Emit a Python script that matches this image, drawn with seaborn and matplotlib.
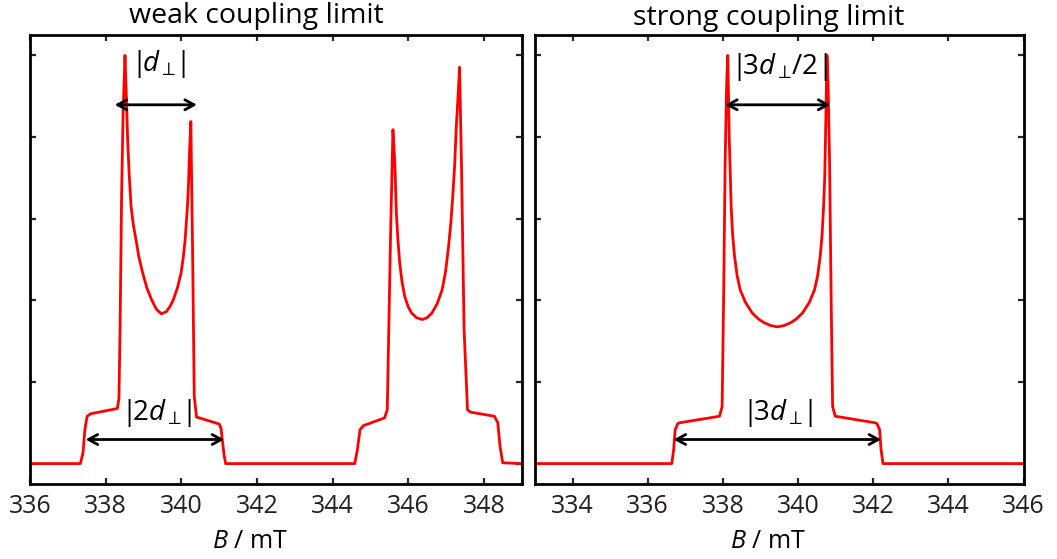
import numpy as np
import pandas as pd
import matplotlib
matplotlib.use("Agg")
import matplotlib.pyplot as plt
import seaborn as sns

# ---- data ----
weak_B = [336.0, 337.33, 337.40, 337.45, 337.51, 337.60, 338.31, 338.35, 338.38, 338.42,
          338.46, 338.51, 338.54, 338.58, 338.62, 338.67, 338.73, 338.80, 338.88, 338.98,
          339.09, 339.21, 339.34, 339.47, 339.60, 339.70, 339.79, 339.90, 339.99, 340.05,
          340.10, 340.13, 340.16, 340.19, 340.21, 340.25, 340.30, 340.34, 340.40, 341.00,
          341.05, 341.08, 341.13, 341.17,
          344.58, 344.65, 344.72, 344.81, 345.37, 345.44, 345.48, 345.53, 345.59, 345.62,
          345.64, 345.68, 345.72, 345.77, 345.83, 345.90, 345.99, 346.08, 346.22, 346.37,
          346.50, 346.62, 346.76, 346.89, 346.98, 347.06, 347.12, 347.17, 347.22, 347.26,
          347.31, 347.35, 347.40, 347.47, 347.56, 347.64, 348.27, 348.36, 348.42, 348.49,
          349.0]
weak_I = [0.0, 0.0, 0.026, 0.083, 0.116, 0.122, 0.135, 0.16, 0.33, 0.655,
          0.86, 1.0, 0.916, 0.794, 0.71, 0.630, 0.585, 0.549, 0.505, 0.466,
          0.430, 0.402, 0.378, 0.367, 0.372, 0.385, 0.402, 0.432, 0.466, 0.505,
          0.549, 0.59, 0.630, 0.69, 0.753, 0.838, 0.49, 0.165, 0.114, 0.097,
          0.085, 0.059, 0.02, 0.0,
          0.0, 0.034, 0.083, 0.093, 0.112, 0.132, 0.328, 0.573, 0.818, 0.77,
          0.736, 0.614, 0.55, 0.49, 0.445, 0.41, 0.385, 0.369, 0.357, 0.353,
          0.358, 0.369, 0.392, 0.426, 0.47, 0.532, 0.59, 0.655, 0.73, 0.818,
          0.90, 0.971, 0.736, 0.328, 0.132, 0.126, 0.116, 0.10, 0.042, 0.002,
          0.0]

strong_B = [333.0, 336.64, 336.69, 336.73, 336.80, 336.85, 337.91, 337.98, 338.02, 338.06,
            338.10, 338.13, 338.15, 338.17, 338.20, 338.22, 338.26, 338.31, 338.38, 338.46,
            338.60, 338.78, 338.95, 339.10, 339.28, 339.45, 339.62, 339.80, 339.95, 340.12,
            340.30, 340.44, 340.52, 340.59, 340.64, 340.68, 340.71, 340.73, 340.75, 340.77,
            340.80, 340.84, 340.88, 340.92, 340.99, 342.05, 342.10, 342.17, 342.21, 342.26,
            346.0]
strong_I = [0.0, 0.0, 0.034, 0.083, 0.098, 0.10, 0.116, 0.14, 0.41, 0.736,
            0.93, 1.0, 0.90, 0.794, 0.70, 0.63, 0.56, 0.508, 0.46, 0.426,
            0.395, 0.369, 0.354, 0.345, 0.338, 0.335, 0.338, 0.345, 0.354, 0.369,
            0.395, 0.426, 0.46, 0.508, 0.56, 0.63, 0.70, 0.794, 0.90, 1.0,
            0.93, 0.736, 0.41, 0.14, 0.116, 0.10, 0.098, 0.083, 0.034, 0.0,
            0.0]

panel_titles = ["weak coupling limit", "strong coupling limit"]
weak_xticks = [336, 338, 340, 342, 344, 346, 348]
strong_xticks = [334, 336, 338, 340, 342, 344, 346]
yticks = [0.0, 0.2, 0.4, 0.6, 0.8, 1.0]

# annotations: (label, x_start, x_end, arrow_y, label_x, label_y)
weak_annots = [(r"$|\!d_{\perp}\!|$", 338.24, 340.41, 0.879, 339.39, 0.978),
               (r"$|\!2d_{\perp}\!|$", 337.47, 341.13, 0.059, 339.34, 0.124)]
strong_annots = [(r"$|\!3d_{\perp}\!/2|$", 338.06, 340.86, 0.879, 339.49, 0.972),
                 (r"$|\!3d_{\perp}\!|$", 336.69, 342.21, 0.059, 339.46, 0.124)]

# ---- styling ----
sns.set_theme(style="white")
plt.rcParams["font.family"] = ["Open Sans", "DejaVu Sans"]
plt.rcParams["mathtext.fontset"] = "custom"
plt.rcParams["mathtext.rm"] = "Open Sans"
plt.rcParams["mathtext.it"] = "Open Sans:italic"
plt.rcParams["mathtext.bf"] = "Open Sans:bold"

W, H = 1057, 559
fig = plt.figure(figsize=(W / 100, H / 100), dpi=100)
ax1 = fig.add_axes([30 / W, 75 / H, 492 / W, 449 / H])
ax2 = fig.add_axes([535 / W, 75 / H, 488.5 / W, 449 / H])

panels = [
    (ax1, pd.DataFrame({"B": weak_B, "I": weak_I}), (336, 349), weak_xticks, weak_annots,
     panel_titles[0], 256, 23.5, 0.447),
    (ax2, pd.DataFrame({"B": strong_B, "I": strong_I}), (333, 346), strong_xticks, strong_annots,
     panel_titles[1], 769, 24.5, 0.477),
]

for ax, df, xlim, xt, annots, title, tx, ty, lx_ax in panels:
    sns.lineplot(data=df, x="B", y="I", ax=ax, color="#ff0000", lw=2.0,
                 estimator=None, sort=False)
    ax.set_xlim(*xlim)
    ax.set_ylim(-0.05, 1.05)
    ax.set_xticks(xt)
    ax.set_yticks(yticks)
    ax.set_yticklabels([])
    ax.tick_params(axis="both", direction="in", length=4, width=1.6,
                   top=True, right=True, bottom=True, left=True,
                   labelsize=18, labelcolor="#231f20", pad=7)
    for s in ax.spines.values():
        s.set_linewidth(2.0)
        s.set_color("black")
    ax.set_xlabel(r"$B$ / mT", fontsize=18, color="black")
    ax.xaxis.label.set_va("baseline")
    ax.xaxis.set_label_coords(lx_ax, -64.0 / 449)
    ax.set_ylabel("")
    fig.text(tx / W, (H - ty) / H, title, fontsize=20.5, ha="center", va="baseline",
             color="black")
    for label, x0, x1, ya, lx, ly in annots:
        ax.annotate("", xy=(x1, ya), xytext=(x0, ya),
                    arrowprops=dict(arrowstyle="<->,head_length=0.55,head_width=0.3",
                                    lw=2.0, color="black", shrinkA=0, shrinkB=0))
        ax.text(lx, ly, label, fontsize=20, ha="center", va="center", color="black")

fig.savefig("out.png", dpi=100)
